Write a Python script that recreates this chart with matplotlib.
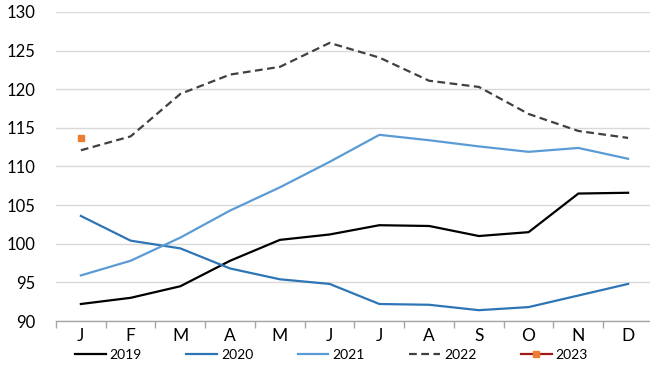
import matplotlib
matplotlib.use("Agg")
import matplotlib.pyplot as plt
import numpy as np

months = ["J", "F", "M", "A", "M", "J", "J", "A", "S", "O", "N", "D"]
s2019 = [92.2, 93.0, 94.5, 97.8, 100.5, 101.2, 102.4, 102.3, 101.0, 101.5, 106.5, 106.6]
s2020 = [103.6, 100.4, 99.4, 96.8, 95.4, 94.8, 92.2, 92.1, 91.4, 91.8, 93.3, 94.8]
s2021 = [95.9, 97.8, 100.8, 104.3, 107.3, 110.6, 114.1, 113.4, 112.6, 111.9, 112.4, 111.0]
s2022 = [112.1, 113.9, 119.4, 121.9, 122.9, 126.0, 124.1, 121.1, 120.3, 116.8, 114.6, 113.7]
s2023 = [113.7]
yticks = [90, 95, 100, 105, 110, 115, 120, 125, 130]

plt.rcParams['font.family'] = ['Lato', 'DejaVu Sans']

fig = plt.figure(figsize=(6.5, 3.66), dpi=100)
ax = fig.add_axes([56/650, 45/366, 594/650, 309/366])

x = np.arange(len(months))
ax.plot(x, s2019, color='black', lw=1.6, label='2019')
ax.plot(x, s2020, color='#2e75b6', lw=1.6, label='2020')
ax.plot(x, s2021, color='#5b9bd5', lw=1.6, label='2021')
ax.plot(x, s2022, color='#404040', lw=1.6, ls=(0, (3.5, 2)), label='2022')
ax.plot(x[:len(s2023)], s2023, color='#a01818', lw=1.6, marker='s', ms=5,
        markerfacecolor='#ed7d31', markeredgecolor='#ed7d31', label='2023')

ax.set_ylim(90, 130)
ax.set_yticks(yticks)
ax.set_xlim(-0.49, 11.44)
ax.set_xticks(x)
ax.set_xticklabels(months)
ax.set_xticks(np.arange(-0.5, 11.0, 1.0), minor=True)
ax.tick_params(axis='x', which='major', length=0, pad=5, labelsize=12.5)
ax.tick_params(axis='x', which='minor', length=5, color='#a6a6a6', width=1)
ax.tick_params(axis='y', length=0, pad=15, labelsize=12)

ax.grid(axis='y', color='#d9d9d9', lw=1)
ax.set_axisbelow(True)
for s in ['top', 'right', 'left']:
    ax.spines[s].set_visible(False)
ax.spines['bottom'].set_color('#a6a6a6')
ax.spines['bottom'].set_linewidth(1)

fig.legend(loc='center', bbox_to_anchor=(0.51, 11/366), ncol=5, frameon=False,
           fontsize=10, handlelength=2.2, columnspacing=3.2, handletextpad=0.3)

fig.savefig('out.png', dpi=100)
